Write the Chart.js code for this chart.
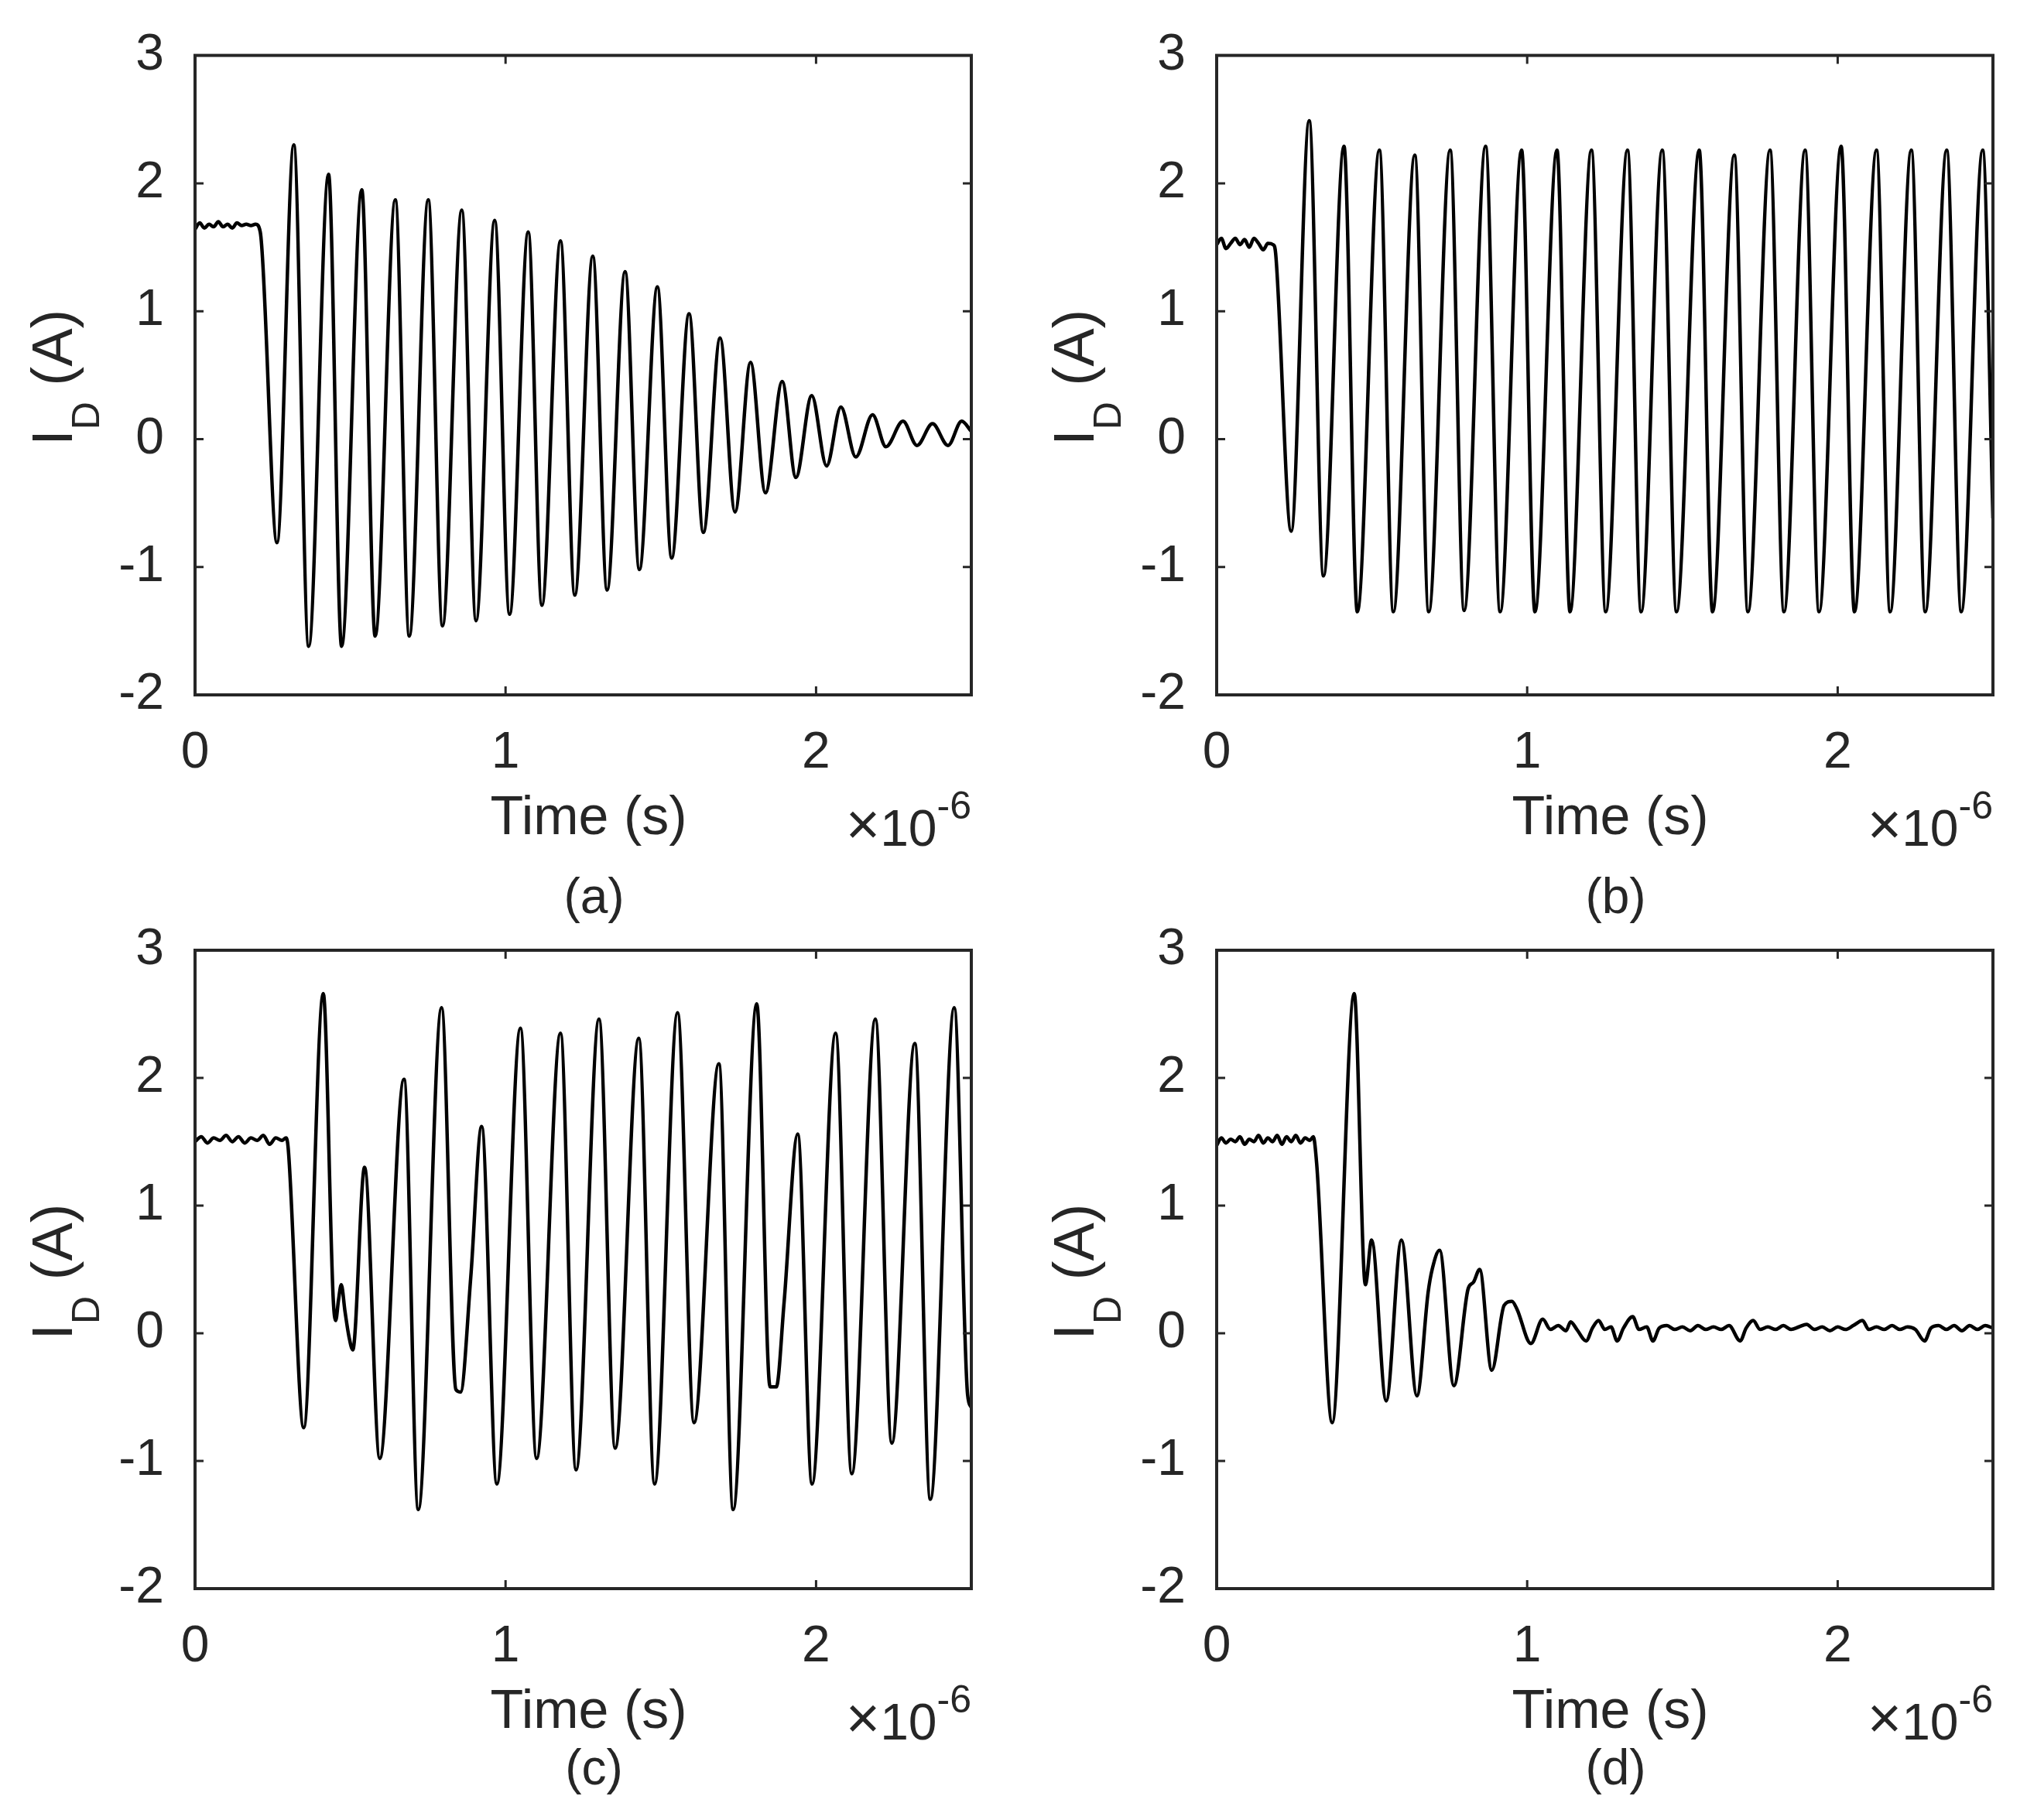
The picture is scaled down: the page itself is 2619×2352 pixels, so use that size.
<!DOCTYPE html>
<html>
<head>
<meta charset="utf-8">
<title>I_D transient waveforms</title>
<script src="https://cdn.jsdelivr.net/npm/chart.js@4.4.1/dist/chart.umd.min.js"></script>
<style>
  html, body { margin: 0; padding: 0; background: #ffffff; }
  #page { position: relative; width: 2619px; height: 2352px; background: #ffffff; }
  #page canvas { position: absolute; left: 0; top: 0; }
</style>
</head>
<body>
<div id="page">
  <canvas id="panelA" width="2619" height="2352"></canvas>
  <canvas id="panelB" width="2619" height="2352"></canvas>
  <canvas id="panelC" width="2619" height="2352"></canvas>
  <canvas id="panelD" width="2619" height="2352"></canvas>
</div>
<script>
// time in units of 1e-6 s (axis shows x10^-6), current in A
const timeA = [0, 0.015, 0.03, 0.045, 0.06, 0.075, 0.09, 0.105, 0.12, 0.135, 0.15, 0.165, 0.18, 0.195, 0.21,
  0.264, 0.318, 0.366, 0.43, 0.472, 0.537, 0.58, 0.645, 0.69, 0.751, 0.797, 0.859, 0.905, 0.965, 1.013,
  1.073, 1.117, 1.177, 1.223, 1.281, 1.327, 1.385, 1.431, 1.489, 1.535, 1.591, 1.637, 1.691, 1.739, 1.789,
  1.837, 1.891, 1.935, 1.986, 2.034, 2.08, 2.128, 2.182, 2.225, 2.28, 2.325, 2.375, 2.425, 2.469, 2.5];
const currentA = [1.64, 1.69, 1.65, 1.68, 1.66, 1.70, 1.66, 1.68, 1.65, 1.69, 1.67, 1.68, 1.67, 1.68, 1.62,
  -0.81, 2.30, -1.62, 2.07, -1.62, 1.95, -1.54, 1.87, -1.54, 1.87, -1.46, 1.79, -1.42, 1.71, -1.37,
  1.62, -1.30, 1.55, -1.22, 1.43, -1.18, 1.31, -1.02, 1.19, -0.93, 0.98, -0.73, 0.79, -0.57, 0.60,
  -0.42, 0.45, -0.30, 0.34, -0.21, 0.25, -0.14, 0.19, -0.06, 0.14, -0.05, 0.12, -0.05, 0.14, 0.06];

const timeB = [0, 0.015, 0.03, 0.045, 0.06, 0.075, 0.09, 0.105, 0.12, 0.135, 0.15, 0.165, 0.182, 0.19,
  0.24, 0.298, 0.344, 0.41, 0.453, 0.524, 0.569, 0.638, 0.683, 0.752, 0.797, 0.866, 0.913, 0.982, 1.025,
  1.096, 1.138, 1.207, 1.253, 1.323, 1.367, 1.435, 1.481, 1.554, 1.597, 1.667, 1.711, 1.782, 1.827, 1.895,
  1.94, 2.011, 2.054, 2.125, 2.169, 2.237, 2.282, 2.351, 2.398, 2.467, 2.5];
const currentB = [1.52, 1.57, 1.49, 1.53, 1.57, 1.52, 1.56, 1.50, 1.57, 1.53, 1.48, 1.53, 1.52, 1.45,
  -0.72, 2.49, -1.07, 2.29, -1.35, 2.26, -1.35, 2.22, -1.35, 2.26, -1.34, 2.29, -1.35, 2.26, -1.35,
  2.26, -1.35, 2.26, -1.35, 2.26, -1.35, 2.26, -1.35, 2.26, -1.35, 2.22, -1.35, 2.26, -1.35, 2.26,
  -1.35, 2.29, -1.35, 2.26, -1.35, 2.26, -1.35, 2.26, -1.35, 2.26, -0.62];

const timeC = [0, 0.02, 0.04, 0.06, 0.08, 0.1, 0.12, 0.14, 0.16, 0.18, 0.2, 0.22, 0.24, 0.26, 0.28, 0.293, 0.30,
  0.35, 0.413, 0.445, 0.453, 0.462, 0.471, 0.483, 0.496, 0.508, 0.546, 0.595, 0.673, 0.719, 0.794,
  0.84, 0.855, 0.888, 0.923, 0.972, 1.048, 1.1, 1.177, 1.227, 1.301, 1.353, 1.429, 1.48, 1.554, 1.607,
  1.687, 1.733, 1.809, 1.852, 1.872, 1.897, 1.941, 1.987, 2.063, 2.115, 2.191, 2.244, 2.318, 2.368,
  2.445, 2.488, 2.5];
const currentC = [1.50, 1.54, 1.49, 1.53, 1.51, 1.55, 1.50, 1.54, 1.49, 1.53, 1.51, 1.55, 1.48, 1.53, 1.51, 1.53, 1.45,
  -0.74, 2.66, 0.27, 0.10, 0.26, 0.38, 0.17, -0.03, -0.13, 1.30, -0.98, 1.99, -1.38, 2.55,
  -0.44, -0.46, 0.44, 1.62, -1.18, 2.39, -0.98, 2.35, -1.07, 2.46, -0.90, 2.31, -1.18, 2.51, -0.70,
  2.11, -1.38, 2.58, -0.42, -0.42, 0.24, 1.56, -1.18, 2.35, -1.10, 2.46, -0.86, 2.27, -1.30,
  2.55, -0.48, -0.58];

const timeD = [0, 0.015, 0.03, 0.045, 0.06, 0.075, 0.09, 0.105, 0.12, 0.135, 0.15, 0.165, 0.18, 0.195, 0.21,
  0.225, 0.24, 0.255, 0.27, 0.285, 0.3, 0.311, 0.322, 0.372, 0.443, 0.479, 0.499, 0.546, 0.595, 0.645,
  0.681, 0.694, 0.718, 0.764, 0.81, 0.827, 0.847, 0.886, 0.926, 0.951, 0.967, 1.012,
  1.05, 1.075, 1.1, 1.125, 1.14, 1.16, 1.19, 1.21, 1.23, 1.25, 1.27, 1.29, 1.31, 1.34, 1.36, 1.385,
  1.405, 1.425, 1.45, 1.475, 1.5, 1.525, 1.55, 1.575, 1.6, 1.625, 1.65, 1.686, 1.705, 1.728, 1.75,
  1.775, 1.8, 1.825, 1.85, 1.875, 1.9, 1.925, 1.95, 1.975, 2.0, 2.025, 2.05, 2.08, 2.1, 2.125, 2.15,
  2.175, 2.2, 2.225, 2.25, 2.28, 2.3, 2.325, 2.35, 2.375, 2.4, 2.425, 2.45, 2.475, 2.5];
const currentD = [1.47, 1.53, 1.49, 1.52, 1.50, 1.54, 1.48, 1.52, 1.50, 1.55, 1.49, 1.53, 1.50, 1.55, 1.48,
  1.54, 1.50, 1.55, 1.49, 1.53, 1.51, 1.54, 1.33, -0.70, 2.66, 0.38, 0.73, -0.53, 0.73, -0.49,
  0.32, 0.50, 0.65, -0.41, 0.35, 0.40, 0.50, -0.29, 0.22, 0.25, 0.19, -0.08,
  0.11, 0.03, 0.06, 0.02, 0.09, 0.03, -0.06, 0.04, 0.10, 0.03, 0.05, -0.06, 0.04, 0.13, 0.03, 0.05,
  -0.06, 0.04, 0.06, 0.03, 0.05, 0.02, 0.06, 0.03, 0.05, 0.03, 0.06, -0.06, 0.04, 0.10, 0.03,
  0.05, 0.03, 0.06, 0.03, 0.05, 0.07, 0.03, 0.05, 0.02, 0.05, 0.03, 0.06, 0.10, 0.03, 0.05, 0.03,
  0.06, 0.03, 0.05, 0.03, -0.06, 0.04, 0.06, 0.03, 0.06, 0.02, 0.06, 0.03, 0.06, 0.04];

const xTickVals = [0, 1, 2];
const yTickVals = [-2, -1, 0, 1, 2, 3];
const panelLetters = ["(a)", "(b)", "(c)", "(d)"];
const xTitle = "Time (s)";
const yTitleMain = "I";
const yTitleSub = "D";
const yTitleUnit = " (A)";

const W = 2619, H = 2352;
const axisColor = "#262626";
const fontFamily = '"Liberation Sans", Arial, Helvetica, sans-serif';

// plot boxes (pixels) and offset of the panel letter below the axes
const boxes = [
    { left: 252, top: 70, right: 1255, bottom: 898, letterDy: 282 },
    { left: 1572, top: 70, right: 2575, bottom: 898, letterDy: 282 },
    { left: 252, top: 1228, right: 1255, bottom: 2053, letterDy: 253 },
    { left: 1572, top: 1228, right: 2575, bottom: 2053, letterDy: 253 }
];

const framePlugin = {
    id: "matlabFrame",
    afterDraw(chart, args, opts) {
        const ctx = chart.ctx;
        const a = chart.chartArea;
        const xs = chart.scales.x, ys = chart.scales.y;
        const tickLen = 11;
        ctx.save();

        // box + inward ticks on all four sides
        ctx.strokeStyle = axisColor;
        ctx.lineWidth = 4;
        ctx.strokeRect(a.left, a.top, a.right - a.left, a.bottom - a.top);
        ctx.lineWidth = 3;
        ctx.beginPath();
        xTickVals.forEach(v => {
            const px = xs.getPixelForValue(v);
            ctx.moveTo(px, a.bottom); ctx.lineTo(px, a.bottom - tickLen);
            ctx.moveTo(px, a.top); ctx.lineTo(px, a.top + tickLen);
        });
        yTickVals.forEach(v => {
            const py = ys.getPixelForValue(v);
            ctx.moveTo(a.left, py); ctx.lineTo(a.left + tickLen, py);
            ctx.moveTo(a.right, py); ctx.lineTo(a.right - tickLen, py);
        });
        ctx.stroke();

        ctx.fillStyle = axisColor;
        ctx.textBaseline = "alphabetic";
        const cx = (a.left + a.right) / 2;

        // x title
        ctx.font = "70px " + fontFamily;
        ctx.textAlign = "center";
        ctx.fillText(xTitle, cx + 7, a.bottom + 180);

        // x10^-6 multiplier
        ctx.textAlign = "left";
        ctx.font = "76px " + fontFamily;
        const wx = ctx.measureText("\u00d7").width;
        ctx.font = "66px " + fontFamily;
        const w1 = ctx.measureText("10").width;
        ctx.font = "50px " + fontFamily;
        const w2 = ctx.measureText("-6").width;
        const sx = a.right - wx - w1 - w2;
        ctx.font = "76px " + fontFamily;
        ctx.fillText("\u00d7", sx, a.bottom + 193);
        ctx.font = "66px " + fontFamily;
        ctx.fillText("10", sx + wx, a.bottom + 195);
        ctx.font = "50px " + fontFamily;
        ctx.fillText("-6", sx + wx + w1, a.bottom + 160);

        // panel letter
        ctx.font = "64px " + fontFamily;
        ctx.textAlign = "center";
        ctx.fillText(opts.letter, cx + 14, a.bottom + opts.letterDy);

        // y title I_D (A), rotated
        ctx.translate(a.left - 159, (a.top + a.bottom) / 2 + 3);
        ctx.rotate(-Math.PI / 2);
        ctx.textAlign = "left";
        ctx.font = "74px " + fontFamily;
        const wI = ctx.measureText(yTitleMain).width;
        const wU = ctx.measureText(yTitleUnit).width;
        ctx.font = "50px " + fontFamily;
        const wD = ctx.measureText(yTitleSub).width;
        let tx = -(wI + wD + wU) / 2;
        ctx.font = "74px " + fontFamily;
        ctx.fillText(yTitleMain, tx, 0);
        ctx.font = "50px " + fontFamily;
        ctx.fillText(yTitleSub, tx + wI, 35);
        ctx.font = "74px " + fontFamily;
        ctx.fillText(yTitleUnit, tx + wI + wD, 0);

        ctx.restore();
    }
};

function makePanel(canvasId, times, currents, box, letter) {
    const ctx = document.getElementById(canvasId).getContext("2d");
    const points = times.map((t, i) => ({ x: t, y: currents[i] }));

    return new Chart(ctx, {
        type: "line",
        data: {
            datasets: [{
                data: points,
                borderColor: "#000000",
                borderWidth: 4.5,
                pointRadius: 0,
                fill: false,
                cubicInterpolationMode: "monotone"
            }]
        },
        options: {
            responsive: false,
            devicePixelRatio: 1,
            animation: false,
            events: [],
            layout: {
                padding: {
                    left: box.left - 100,
                    right: W - box.right,
                    top: box.top,
                    bottom: H - box.bottom - 100
                }
            },
            scales: {
                x: {
                    type: "linear",
                    min: 0,
                    max: 2.5,
                    afterBuildTicks: s => { s.ticks = xTickVals.map(v => ({ value: v })); },
                    afterFit: s => { s.height = 100; },
                    grid: { display: false },
                    border: { display: false },
                    ticks: {
                        color: axisColor,
                        font: { size: 66, family: fontFamily },
                        padding: 28,
                        maxRotation: 0
                    }
                },
                y: {
                    type: "linear",
                    min: -2,
                    max: 3,
                    afterBuildTicks: s => { s.ticks = yTickVals.map(v => ({ value: v })); },
                    afterFit: s => { s.width = 100; },
                    grid: { display: false },
                    border: { display: false },
                    ticks: {
                        color: axisColor,
                        font: { size: 66, family: fontFamily },
                        padding: 32
                    }
                }
            },
            plugins: {
                legend: { display: false },
                tooltip: { enabled: false },
                matlabFrame: { letter: letter, letterDy: box.letterDy }
            }
        },
        plugins: [framePlugin]
    });
}

document.addEventListener("DOMContentLoaded", function() {
    makePanel("panelA", timeA, currentA, boxes[0], panelLetters[0]);
    makePanel("panelB", timeB, currentB, boxes[1], panelLetters[1]);
    makePanel("panelC", timeC, currentC, boxes[2], panelLetters[2]);
    makePanel("panelD", timeD, currentD, boxes[3], panelLetters[3]);
});
</script>
</body>
</html>
